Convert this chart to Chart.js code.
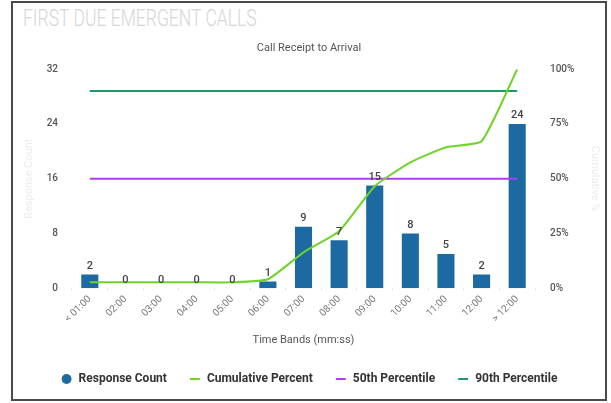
<!DOCTYPE html>
<html><head><meta charset="utf-8">
<script src="https://cdn.jsdelivr.net/npm/chart.js@4/dist/chart.umd.min.js"></script>
<style>
html,body{margin:0;padding:0;background:#fff;}
#frame{position:absolute;left:11px;top:1px;width:592px;height:396px;border:2px solid #4a4a4a;background:#fff;}
#ttl{position:absolute;left:10px;top:1px;font-family:Roboto,sans-serif;font-weight:300;font-size:24px;color:#d6d6d6;white-space:nowrap;transform:scaleX(0.73);transform-origin:left top;}
canvas{position:absolute;left:0;top:0;}
</style></head>
<body>
<div id="frame"><div id="ttl">FIRST DUE EMERGENT CALLS</div><canvas id="c" width="592" height="396"></canvas></div>
<script>
const categories = ["< 01:00","02:00","03:00","04:00","05:00","06:00","07:00","08:00","09:00","10:00","11:00","12:00","> 12:00"];
const responseCount = [2,0,0,0,0,1,9,7,15,8,5,2,24];
const cumulativePercent = [2.7,2.7,2.7,2.7,2.7,4.1,16.4,26.0,46.6,57.5,64.4,67.1,100];
const p50 = [50,50,50,50,50,50,50,50,50,50,50,50,50];
const p90 = [90,90,90,90,90,90,90,90,90,90,90,90,90];
const leftTicks = [0,8,16,24,32];
const rightTicks = [0,25,50,75,100];

const barLabels = {
  id:'barLabels',
  afterDatasetsDraw(chart){
    const ctx = chart.ctx;
    const meta = chart.getDatasetMeta(0);
    ctx.save();
    ctx.font = '500 11px Roboto, sans-serif';
    ctx.fillStyle = '#444';
    ctx.textAlign = 'center';
    ctx.textBaseline = 'bottom';
    meta.data.forEach((el,i)=>{
      ctx.fillText(String(responseCount[i]), el.x, el.y - 3);
    });
    ctx.restore();
  }
};

new Chart(document.getElementById('c'), {
  data:{
    labels: categories,
    datasets:[
      {type:'bar', label:'Response Count', data:responseCount, yAxisID:'y', backgroundColor:'#1d6aa3', borderWidth:0, categoryPercentage:0.8, barPercentage:0.6, pointStyle:'circle', order:4},
      {type:'line', label:'Cumulative Percent', data:cumulativePercent, yAxisID:'yR', borderColor:'#6fd42a', backgroundColor:'#6fd42a', borderWidth:2, pointRadius:0, tension:0.15, pointStyle:'line', order:1},
      {type:'line', label:'50th Percentile', data:p50, yAxisID:'yR', borderColor:'#b23cf0', backgroundColor:'#b23cf0', borderWidth:2, pointRadius:0, pointStyle:'line', order:2},
      {type:'line', label:'90th Percentile', data:p90, yAxisID:'yR', borderColor:'#1f9a66', backgroundColor:'#1f9a66', borderWidth:2, pointRadius:0, pointStyle:'line', order:3}
    ]
  },
  options:{
    responsive:false, animation:false,
    layout:{padding:{top:39,left:0,right:0,bottom:4}},
    plugins:{
      title:{display:false},
      subtitle:{display:true,text:'Call Receipt to Arrival',color:'#555',font:{family:'Roboto',size:11},padding:{top:0,bottom:14}},
      tooltip:{enabled:false},
      legend:{
        position:'bottom',
        labels:{usePointStyle:true,boxWidth:12,boxHeight:7,padding:22,color:'#333',font:{family:'Roboto',size:12,weight:'bold'},
          sort:(a,b)=>a.datasetIndex-b.datasetIndex}
      }
    },
    scales:{
      x:{
        offset:true,
        grid:{display:true,drawOnChartArea:false,color:'#e6e6e6',tickLength:2},
        border:{display:false},
        ticks:{color:'#777',font:{family:'Roboto',size:10},maxRotation:45,minRotation:45,autoSkip:false},
        title:{display:true,text:'Time Bands (mm:ss)',color:'#555',font:{family:'Roboto',size:11},padding:{top:6}}
      },
      y:{
        position:'left', min:0, max:32,
        afterBuildTicks:(s)=>{s.ticks = leftTicks.map(v=>({value:v}));},
        afterFit:(s)=>{s.width = 59;},
        grid:{display:false}, border:{display:false},
        ticks:{color:'#555',font:{family:'Roboto',size:10,weight:'500'},padding:6},
        title:{display:true,text:'Response Count',color:'#ececec',font:{family:'Roboto',size:11},padding:{top:10,bottom:4}}
      },
      yR:{
        position:'right', min:0, max:100,
        afterBuildTicks:(s)=>{s.ticks = rightTicks.map(v=>({value:v}));},
        afterFit:(s)=>{s.width = 70;},
        grid:{display:false}, border:{display:false},
        ticks:{color:'#555',font:{family:'Roboto',size:10,weight:'500'},padding:7,callback:(v)=>v+'%'},
        title:{display:true,text:'Cumulative %',color:'#ececec',font:{family:'Roboto',size:11}}
      }
    }
  },
  plugins:[barLabels]
});
</script>
</body></html>
